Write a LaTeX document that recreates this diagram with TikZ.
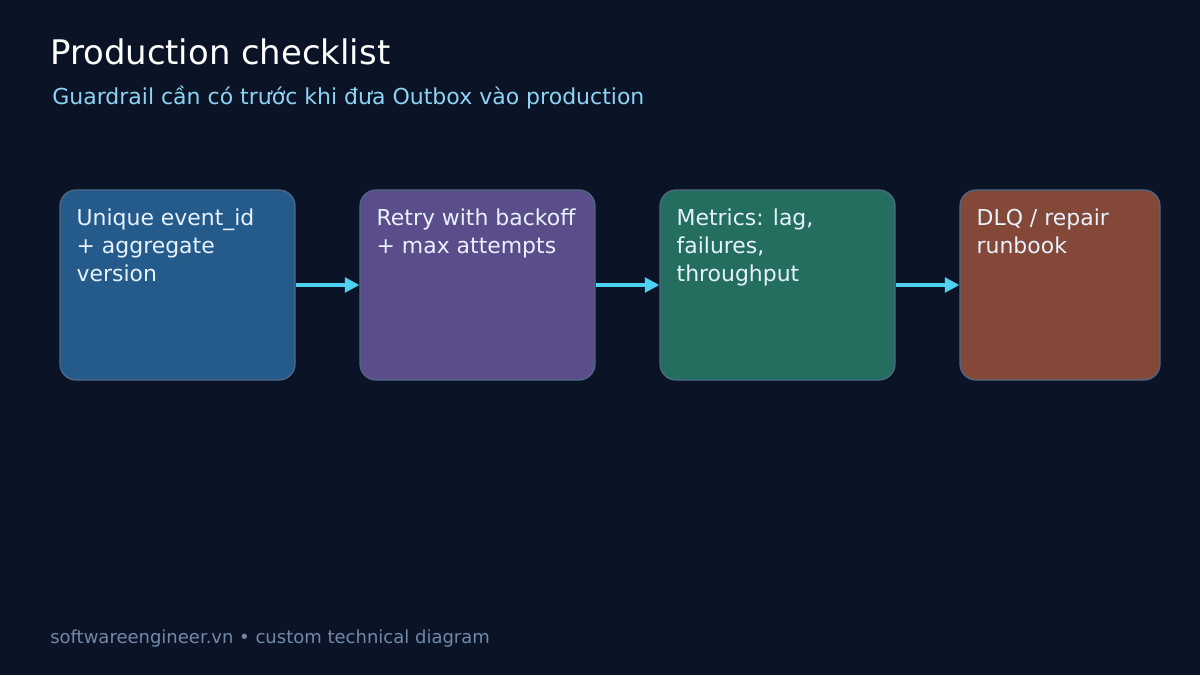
\documentclass[tikz,border=0pt]{standalone}
\usepackage{fontspec}
\setmainfont{DejaVu Sans}
\usetikzlibrary{positioning,arrows.meta,calc}
\definecolor{bgc}{HTML}{0B1426}
\definecolor{edgec}{HTML}{4E6885}
\definecolor{bluec}{HTML}{245B8A}
\definecolor{purplec}{HTML}{5B4D8A}
\definecolor{greenc}{HTML}{236E5E}
\definecolor{brownc}{HTML}{834838}
\definecolor{arrowc}{HTML}{4FD2F2}
\definecolor{subc}{HTML}{8DD3F4}
\definecolor{footc}{HTML}{7189A8}
\definecolor{txtc}{HTML}{E8F2FF}
\begin{document}
\begin{tikzpicture}[>={Triangle[length=3.6mm, width=3.6mm]},
  box/.style={draw=edgec, line width=0.9pt, rounded corners=4mm,
              minimum width=58.75mm, minimum height=47.5mm, inner sep=0pt},
  txt/.style={text=txtc, font=\fontsize{15.6}{19.9}\selectfont, align=left,
              anchor=north west, inner sep=0pt},
  link/.style={->, draw=arrowc, line width=2.8pt}]
\fill[bgc] (0,0) rectangle (30,16.875);
% header
\node[text=white, font=\fontsize{24.1}{29}\selectfont, anchor=base west, inner sep=0pt] (title) at (1.25,15.25) {Production checklist};
\node[text=subc, font=\fontsize{15.65}{19}\selectfont, anchor=base west, inner sep=0pt] (sub) at (1.3,14.27) {Guardrail cần có trước khi đưa Outbox vào production};
% checklist steps
\node[box, fill=bluec] (b1) at (4.4375,9.75) {};
\node[box, fill=purplec] (b2) at (11.9375,9.75) {};
\node[box, fill=greenc] (b3) at (19.4375,9.75) {};
\node[box, fill=brownc, minimum width=50mm] (b4) at (26.5,9.75) {};
\node[txt] (t1) at ($(b1.north west)+(0.425,-0.48)$) {Unique event\_id\\+ aggregate\\version};
\node[txt] (t2) at ($(b2.north west)+(0.425,-0.48)$) {Retry with backoff\\+ max attempts};
\node[txt] (t3) at ($(b3.north west)+(0.425,-0.48)$) {Metrics: lag,\\failures,\\throughput};
\node[txt] (t4) at ($(b4.north west)+(0.425,-0.48)$) {DLQ / repair\\runbook};
\draw[link] (b1) -- (b2); \draw[link] (b2) -- (b3); \draw[link] (b3) -- (b4);
% footer
\node[text=footc, font=\fontsize{12.8}{15}\selectfont, anchor=base west, inner sep=0pt] (foot) at (1.25,0.8) {softwareengineer.vn • custom technical diagram};
\end{tikzpicture}
\end{document}
